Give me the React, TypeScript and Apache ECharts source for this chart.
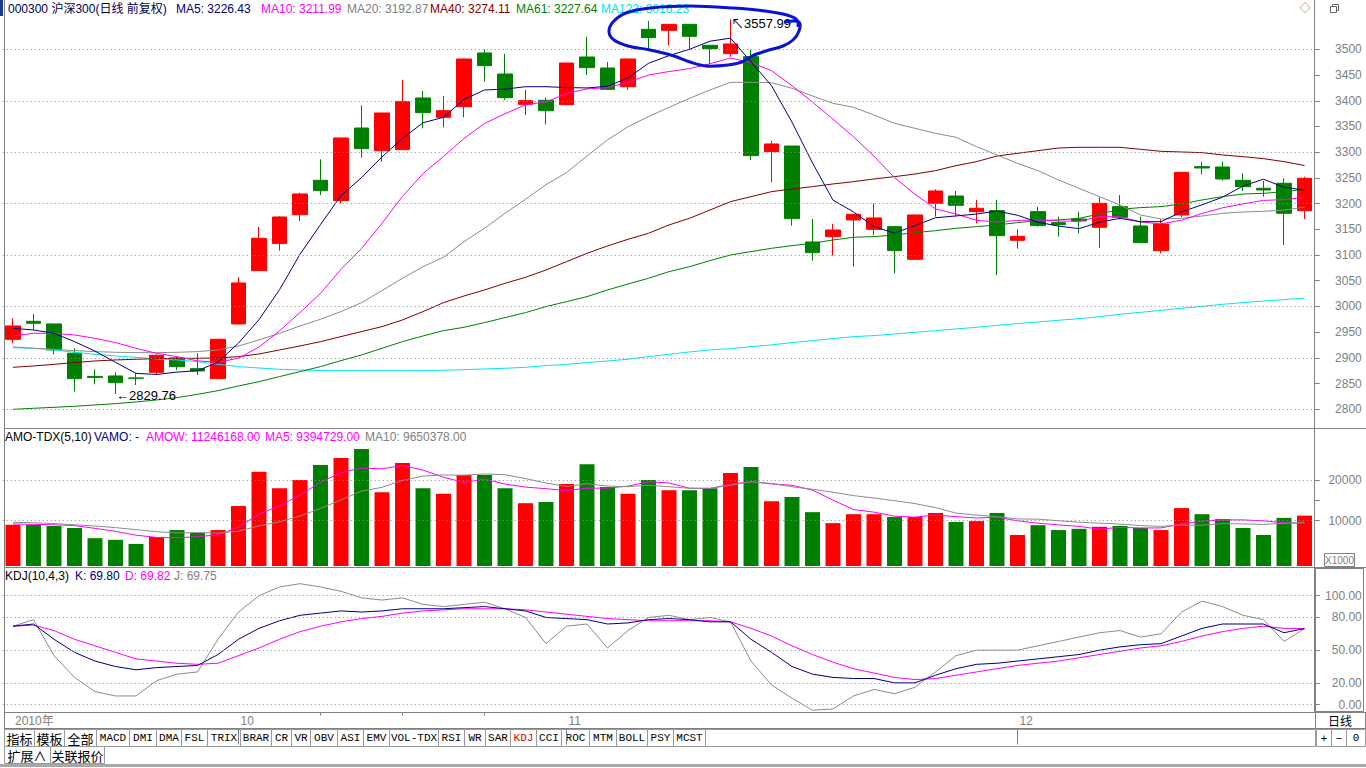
import React, { useEffect, useRef } from 'react';
import * as echarts from 'echarts';

// ---------- DATA ----------
const dates = [
  '2010-09-13','2010-09-14','2010-09-15','2010-09-16','2010-09-17','2010-09-20','2010-09-21','2010-09-27','2010-09-28','2010-09-29','2010-09-30',
  '2010-10-08','2010-10-11','2010-10-12','2010-10-13','2010-10-14','2010-10-15','2010-10-18','2010-10-19','2010-10-20','2010-10-21','2010-10-22','2010-10-25','2010-10-26','2010-10-27','2010-10-28','2010-10-29',
  '2010-11-01','2010-11-02','2010-11-03','2010-11-04','2010-11-05','2010-11-08','2010-11-09','2010-11-10','2010-11-11','2010-11-12','2010-11-15','2010-11-16','2010-11-17','2010-11-18','2010-11-19','2010-11-22','2010-11-23','2010-11-24','2010-11-25','2010-11-26','2010-11-29','2010-11-30',
  '2010-12-01','2010-12-02','2010-12-03','2010-12-06','2010-12-07','2010-12-08','2010-12-09','2010-12-10','2010-12-13','2010-12-14','2010-12-15','2010-12-16','2010-12-17','2010-12-20','2010-12-21'
];

const opens = [2936.1,2971.1,2966.0,2909.0,2864.0,2864.9,2861.0,2872.0,2899.9,2879.1,2859.7,2966.0,3069.7,3122.2,3178.5,3245.3,3205.8,3347.0,3303.0,3305.0,3405.4,3367.8,3388.5,3492.9,3452.0,3393.0,3400.8,3392.4,3485.1,3463.7,3427.4,3538.9,3536.9,3548.6,3507.8,3491.6,3485.7,3301.0,3312.0,3125.4,3135.8,3168.2,3150.0,3155.2,3091.7,3200.6,3214.8,3184.4,3186.3,3128.6,3184.4,3163.0,3170.1,3153.9,3194.1,3156.5,3108.6,3177.9,3271.9,3271.2,3245.3,3229.8,3239.5,3186.3];
const closes = [2962.1,2967.3,2915.4,2859.7,2862.0,2851.9,2860.3,2905.0,2883.0,2874.6,2936.2,3045.7,3132.5,3174.0,3218.7,3225.2,3327.6,3306.9,3376.2,3398.2,3376.9,3380.7,3481.2,3468.2,3406.0,3400.2,3380.7,3473.4,3464.4,3422.2,3481.2,3522.7,3548.6,3525.3,3501.3,3510.4,3293.3,3316.0,3170.8,3104.7,3148.7,3179.2,3172.1,3108.6,3177.9,3224.6,3196.7,3190.9,3137.7,3136.4,3157.2,3159.1,3166.2,3200.6,3173.4,3124.1,3160.4,3260.8,3269.3,3247.9,3233.0,3226.5,3181.1,3249.2];
const lows = [2928.4,2954.3,2907.0,2834.4,2848.7,2829.76,2847.4,2866.8,2876.5,2866.8,2859.0,2965.0,3069.0,3108.5,3166.2,3216.8,3200.6,3289.4,3281.6,3304.0,3346.4,3348.3,3367.8,3437.1,3401.5,3372.3,3354.2,3391.0,3450.1,3420.9,3421.0,3500.0,3507.8,3500.0,3471.5,3485.7,3284.8,3241.4,3157.2,3089.0,3098.8,3077.4,3139.0,3064.5,3091.0,3174.7,3174.7,3161.7,3061.2,3112.4,3155.2,3135.8,3142.2,3113.7,3169.5,3124.0,3103.4,3173.4,3256.9,3244.6,3224.6,3213.5,3119.6,3170.1];
const highs = [2977.0,2985.4,2967.0,2918.7,2877.8,2872.0,2870.0,2907.0,2902.4,2909.0,2937.0,3056.7,3154.6,3175.0,3221.3,3286.1,3328.0,3391.1,3377.0,3440.4,3419.0,3409.3,3482.0,3500.0,3491.0,3421.0,3406.0,3474.0,3524.6,3475.4,3482.0,3555.0,3549.0,3549.0,3508.0,3557.99,3498.7,3321.8,3312.0,3170.1,3160.4,3180.0,3200.6,3156.0,3178.0,3227.8,3224.6,3207.0,3207.0,3150.0,3194.1,3174.7,3184.4,3212.2,3216.8,3174.7,3169.5,3261.0,3281.6,3281.6,3258.9,3244.0,3249.2,3252.4];

const ma5 = [2957.5,2954.3,2947.8,2931.6,2913.3,2891.3,2869.9,2867.8,2872.4,2875.0,2891.8,2928.9,2974.4,3032.6,3101.4,3159.2,3215.6,3250.5,3290.9,3326.8,3357.2,3367.8,3402.6,3421.0,3422.6,3427.3,3427.3,3425.7,3424.9,3428.2,3444.4,3472.8,3487.8,3500.0,3515.8,3521.7,3475.8,3429.3,3358.4,3279.0,3206.7,3183.9,3155.1,3142.7,3157.3,3172.5,3176.0,3179.7,3185.6,3177.3,3163.8,3156.3,3151.3,3163.9,3171.3,3164.7,3164.9,3183.9,3197.6,3212.5,3234.3,3247.5,3231.6,3226.4];
const ma10 = [2942.6,2947.8,2947.8,2944.6,2938.1,2929.7,2918.7,2908.9,2902.4,2894.2,2891.6,2899.4,2921.1,2952.5,2988.2,3025.5,3072.3,3112.5,3161.8,3214.1,3258.2,3291.7,3326.6,3356.0,3374.7,3392.3,3397.6,3414.2,3423.0,3425.4,3435.9,3450.1,3456.8,3462.5,3472.0,3483.1,3474.3,3458.6,3429.2,3397.4,3364.2,3329.9,3292.2,3250.6,3218.2,3189.6,3180.0,3167.4,3164.2,3167.3,3168.2,3166.2,3165.5,3174.8,3174.3,3164.3,3160.6,3167.6,3180.8,3191.9,3199.5,3206.2,3207.8,3212.0];
const ma20 = [2921.3,2918.7,2916.7,2914.1,2912.2,2910.9,2910.2,2910.2,2910.9,2912.2,2915.4,2923.2,2934.9,2947.8,2962.1,2975.1,2990.0,3007.4,3030.8,3054.8,3077.4,3095.6,3126.0,3152.0,3181.1,3208.4,3236.9,3260.2,3292.6,3323.7,3349.6,3369.1,3387.2,3404.7,3420.9,3435.8,3435.8,3435.2,3424.2,3409.3,3395.0,3387.2,3372.3,3356.1,3346.4,3336.7,3328.9,3310.8,3294.6,3278.3,3264.1,3245.9,3229.7,3213.5,3197.3,3177.9,3170.1,3171.4,3175.9,3181.1,3183.7,3185.0,3187.5,3192.9];
const ma40 = [2881.7,2884.3,2887.5,2890.8,2894.0,2896.0,2897.3,2898.6,2899.2,2899.2,2899.9,2902.4,2907.6,2915.4,2923.2,2931.6,2941.4,2951.1,2960.8,2973.8,2990.0,3007.4,3020.4,3032.1,3045.0,3056.7,3070.9,3087.2,3103.4,3117.6,3130.6,3142.3,3158.5,3171.4,3187.6,3203.8,3213.5,3223.3,3228.4,3233.0,3238.2,3242.7,3247.9,3252.4,3257.6,3264.1,3273.8,3281.6,3292.6,3297.8,3303.0,3308.1,3309.5,3309.5,3309.5,3305.6,3301.7,3300.4,3299.1,3294.6,3291.3,3287.4,3281.6,3274.1];
const ma61 = [2800.0,2802.0,2803.9,2805.9,2808.5,2811.1,2814.3,2818.2,2822.7,2829.2,2836.3,2845.4,2853.8,2863.6,2873.3,2883.0,2894.7,2905.7,2918.7,2931.6,2942.6,2953.0,2959.5,2968.6,2978.3,2988.0,2999.7,3009.4,3019.1,3032.1,3043.7,3054.8,3067.7,3077.4,3089.1,3100.1,3106.6,3113.1,3118.3,3122.8,3129.3,3134.5,3135.8,3139.0,3143.5,3147.4,3152.0,3155.2,3158.5,3163.0,3166.9,3168.2,3171.4,3179.8,3188.9,3192.2,3194.1,3199.3,3207.1,3213.5,3218.7,3220.0,3223.3,3227.6];
const ma122 = [2920.0,2918.7,2915.4,2910.9,2907.0,2903.8,2901.1,2897.9,2896.0,2892.7,2887.5,2883.0,2880.4,2877.8,2876.5,2875.5,2875.2,2875.2,2875.2,2875.2,2875.2,2875.9,2877.2,2878.5,2879.8,2881.7,2885.0,2887.5,2890.8,2894.0,2897.3,2902.4,2907.0,2911.5,2915.4,2918.0,2921.9,2925.2,2929.7,2933.6,2937.5,2941.3,2943.3,2946.5,2949.8,2953.0,2956.3,2959.5,2963.4,2966.6,2969.9,2973.1,2976.3,2980.2,2984.8,2988.6,2992.4,2996.4,3000.3,3004.2,3007.4,3010.7,3013.3,3016.2];

// turnover (x1000)
const amount = [9000,9000,8700,8200,5700,5300,4300,6000,7700,7000,7700,13600,22000,18000,20000,23700,25400,27600,17000,24200,18000,16600,21200,21200,18000,14300,14600,19000,23900,18300,16600,20000,17500,17500,18000,21700,23200,14800,15800,12100,9400,11600,11600,10900,10900,11900,9700,9900,11900,6500,8900,7700,8000,8500,8700,8200,7700,13100,11600,10400,8200,6500,10700,11246];
const amoMa5 = [9200,9100,9000,8800,8120,7380,6440,5900,5800,6060,6540,8400,11600,13660,16260,19460,21820,22940,22740,23580,22440,20680,19400,20240,19000,18260,17860,17420,17960,18020,18480,19560,19260,17980,17920,18940,19580,19040,18700,17520,15060,12740,12100,11120,10880,11380,11000,10660,10860,9980,9380,8980,8600,7920,8360,8220,8220,9240,9860,10200,10200,9960,9480,9395];
const amoMa10 = [9600,9500,9300,9000,8700,8300,7800,7300,7000,7090,6960,7420,8750,9730,11160,13000,15110,17270,18200,19920,20950,21250,21170,21490,21290,20350,19270,18410,19100,18510,18370,18710,18340,17970,17970,18710,19570,19150,18340,17720,17000,16160,15570,14910,14200,13220,11870,11380,10990,10430,10380,9990,9630,9390,9170,8800,8600,8920,8890,9280,9210,9090,9360,9650];

const kLine = [72,74,60,48,40,35,32,34,35,36,46,60,70,77,82,84,86,85,86,88,88,88,89,90,88,86,80,79,78,74,75,78,79,78,76,76,60,48,35,28,25,24,24,20,20,27,33,37,38,40,42,44,46,50,53,55,56,63,70,74,74,74,66,69.8];
const dLine = [72,73,68,60,54,48,42,40,38,37,38,45,52,60,67,72,76,79,81,84,86,87,88,88,88,87,85,83,81,79,78,77,77,77,77,76,70,63,54,46,39,33,29,25,23,24,27,30,33,36,38,40,43,46,49,52,54,58,63,67,70,72,70,69.82];
const jLine = [72,78,45,25,12,8,8,22,28,30,60,85,100,108,111,108,104,98,96,98,92,90,92,94,88,80,56,72,74,52,68,80,82,78,80,76,40,18,6,-5,-4,8,14,10,16,30,45,50,50,50,54,58,62,66,68,62,65,85,95,90,82,78,58,69.75];

const priceTicks = [2800,2850,2900,2950,3000,3050,3100,3150,3200,3250,3300,3350,3400,3450,3500];
const priceGrid = [2800,2900,3000,3100,3200,3300,3400,3500];
const amoTicks = [10000,15000,20000];
const amoLabels = [10000,20000];
const kdjTicks = [0,20,50,80,100];
const monthLabels: Record<number, string> = { 0: '2010年', 11: '10', 27: '11', 49: '12' };
const monthLines = [11, 27, 49];
const weekTicks = [15, 19, 23];

const tabs = ['指标','模板','全部','MACD','DMI','DMA','FSL','TRIX','BRAR','CR','VR','OBV','ASI','EMV','VOL-TDX','RSI','WR','SAR','KDJ','CCI','ROC','MTM','BOLL','PSY','MCST'];
const tabEdges = [4,34,64,96,129,156,181,207,240,271,291,310,337,363,389,438,464,485,510,536,561,589,616,647,673,705];

// ---------- STYLE ----------
const SANS = '"Liberation Sans", Arial, "Noto Sans CJK SC", sans-serif';
const MONO = '"Liberation Mono", "DejaVu Sans Mono", monospace';
const CJK = '"Noto Sans CJK SC", sans-serif';
const GRAY = '#808080';
const UP = '#ff0000';
const DOWN = '#008000';
const dotted = { color: '#8a8a8a', type: [1, 3] as any, width: 1 };

function txt(x: number, y: number, text: string, fill: string, font = SANS, size = 12, align: any = 'left') {
  return { type: 'text', x, y, silent: true, style: { text, fill, font: `${size}px ${font}`, textVerticalAlign: 'middle', textAlign: align } };
}
function ln(x1: number, y1: number, x2: number, y2: number, stroke = GRAY, w = 1) {
  return { type: 'line', silent: true, shape: { x1, y1, x2, y2 }, style: { stroke, lineWidth: w } };
}
function box(x: number, y: number, w: number, h: number, stroke = GRAY, fill = 'none') {
  return { type: 'rect', silent: true, shape: { x, y, width: w, height: h }, style: { stroke, fill, lineWidth: 1 } };
}

function buildGraphic() {
  const g: any[] = [];
  g.push({ type: 'rect', silent: true, shape: { x: 0, y: 0, width: 3, height: 16 }, style: { fill: '#1c3a8c' } });
  g.push(ln(4.5, 0, 4.5, 763));
  g.push(ln(1314.5, 0, 1314.5, 712));
  g.push(ln(4, 428.5, 1366, 428.5));
  g.push(ln(4, 567.5, 1366, 567.5));
  g.push(ln(4, 712.5, 1366, 712.5));
  g.push(ln(4, 728.5, 1366, 728.5));
  g.push(box(1324.5, 553.5, 30, 13));
  g.push(txt(1339.5, 560, 'X1000', GRAY, SANS, 10, 'center'));
  g.push(box(1315.5, 568.5, 48, 143));
  g.push(box(1315.5, 712.5, 50, 16));
  g.push(txt(1340, 720.5, '日线', '#000', CJK, 12, 'center'));
  g.push(txt(1305, 8, '◇', '#666', SANS, 11, 'center'));
  g.push(box(1332.5, 4.5, 6, 6, '#666'));
  g.push(box(1330.5, 6.5, 6, 6, '#666', '#fff'));

  g.push(txt(8, 9, '000300 沪深300(日线 前复权)', '#000050'));
  g.push(txt(176, 9, 'MA5: 3226.43', '#000080'));
  g.push(txt(261, 9, 'MA10: 3211.99', '#ff00ff'));
  g.push(txt(347, 9, 'MA20: 3192.87', GRAY));
  g.push(txt(430, 9, 'MA40: 3274.11', '#800000'));
  g.push(txt(516, 9, 'MA61: 3227.64', '#008000'));
  g.push(txt(601, 9, 'MA122: 3016.23', '#00e0e8'));

  g.push(txt(5, 437, 'AMO-TDX(5,10)', '#000'));
  g.push(txt(94, 437, 'VAMO: -', '#000080'));
  g.push(txt(146, 437, 'AMOW: 11246168.00', '#ff00ff'));
  g.push(txt(265, 437, 'MA5: 9394729.00', '#ff00ff'));
  g.push(txt(365, 437, 'MA10: 9650378.00', GRAY));

  g.push(txt(5, 576, 'KDJ(10,4,3)', '#000'));
  g.push(txt(75, 576, 'K: 69.80', '#000080'));
  g.push(txt(125, 576, 'D: 69.82', '#ff00ff'));
  g.push(txt(174, 576, 'J: 69.75', GRAY));

  for (let i = 0; i < tabs.length; i++) {
    const x0 = tabEdges[i], x1 = tabEdges[i + 1];
    g.push(box(x0 + 0.5, 729.5, x1 - x0, 17, '#9a9a9a', '#fff'));
    const cjk = i < 3;
    g.push(txt((x0 + x1) / 2 + 0.5, 738, tabs[i], tabs[i] === 'KDJ' ? '#e00000' : '#000', cjk ? CJK : MONO, cjk ? 13 : 11, 'center'));
  }
  g.push(box(705.5, 729.5, 610, 17, '#9a9a9a', '#fff'));
  g.push(box(1316.5, 729.5, 15, 17, '#9a9a9a', '#fff'));
  g.push(box(1331.5, 729.5, 15, 17, '#9a9a9a', '#fff'));
  g.push(box(1346.5, 729.5, 19, 17, '#9a9a9a', '#fff'));
  g.push(txt(1324, 738, '+', '#000', SANS, 11, 'center'));
  g.push(txt(1339, 738, '−', '#000', SANS, 11, 'center'));
  g.push(txt(1356, 738, '0', '#000', MONO, 11, 'center'));
  g.push(box(4.5, 746.5, 46, 17, '#9a9a9a', '#fff'));
  g.push(box(50.5, 746.5, 54, 17, '#9a9a9a', '#fff'));
  g.push(txt(27, 755, '扩展∧', '#000', CJK, 13, 'center'));
  g.push(txt(77.5, 755, '关联报价', '#000', CJK, 13, 'center'));
  g.push(ln(0, 765.5, 1366, 765.5, '#a8a8a8', 3));

  g.push({
    type: 'polyline', silent: true, z: 100,
    shape: {
      smooth: 0.35,
      points: [[784,22],[799,22],[799,31],[793,40],[783,46],[766,51],[752,56],[742,62],[728,65],[706,66],[690,62],[674,56],[650,50],[628,46],[614,40],[609,32],[613,22],[626,13],[650,8],[690,6],[733,8],[765,11],[787,15],[797,20],[798,27]]
    },
    style: { stroke: '#0a14d0', lineWidth: 3, fill: 'none' }
  });
  return g;
}

function buildOption(): any {
  const xBase = (gi: number) => ({
    type: 'category', gridIndex: gi, data: dates, boundaryGap: true,
    axisLine: { show: false }, axisTick: { show: false }, axisLabel: { show: false }, splitLine: { show: false }
  });
  const yLabel = { color: GRAY, fontSize: 12, fontFamily: SANS, align: 'right', margin: 47 };
  const line = (name: string, data: number[], color: string, xi: number, yi: number) => ({
    name, type: 'line', xAxisIndex: xi, yAxisIndex: yi, data, symbol: 'none', z: 3,
    lineStyle: { color, width: 1 }, itemStyle: { color }, silent: true
  });
  const gridSeries = (xi: number, yi: number, vals: number[]) => ({
    type: 'line', xAxisIndex: xi, yAxisIndex: yi, data: [], z: 1, silent: true,
    markLine: { silent: true, symbol: 'none', label: { show: false }, lineStyle: dotted, data: vals.map(v => ({ yAxis: v })) }
  });

  return {
    animation: false,
    backgroundColor: '#ffffff',
    grid: [
      { left: 2.75, width: 1312, top: 19.5, height: 407.3 },
      { left: 2.75, width: 1312, top: 439.3, height: 126.7 },
      { left: 2.75, width: 1312, top: 571.7, height: 139.5 },
      { left: 2.75, width: 1312, top: 712.5, height: 16 }
    ],
    xAxis: [
      xBase(0), xBase(1), xBase(2),
      {
        type: 'category', gridIndex: 3, data: dates, boundaryGap: true, position: 'top',
        axisLine: { show: false },
        axisTick: { show: true, inside: true, length: 16, alignWithLabel: true, interval: (i: number) => monthLines.includes(i), lineStyle: { color: GRAY } },
        axisLabel: { show: true, inside: true, interval: (i: number) => monthLabels[i] !== undefined, formatter: (_v: string, i: number) => monthLabels[i] || '', color: GRAY, align: 'left', fontSize: 12, fontFamily: SANS, margin: 2, padding: [0, 0, 0, 2] },
        splitLine: { show: false }
      },
      {
        type: 'category', gridIndex: 3, data: dates, boundaryGap: true, position: 'top',
        axisLine: { show: false },
        axisTick: { show: true, inside: true, length: 3, alignWithLabel: true, interval: (i: number) => weekTicks.includes(i), lineStyle: { color: GRAY } },
        axisLabel: { show: false }, splitLine: { show: false }
      }
    ],
    yAxis: [
      {
        type: 'value', gridIndex: 0, position: 'right', min: 2766, max: 3558,
        axisLine: { show: false }, splitLine: { show: false },
        axisTick: { show: true, length: 5, customValues: priceTicks, lineStyle: { color: GRAY } },
        axisLabel: { ...yLabel, customValues: priceTicks, formatter: (v: number) => String(v) }
      },
      {
        type: 'value', gridIndex: 1, position: 'right', min: -1130, max: 30000,
        axisLine: { show: false }, splitLine: { show: false },
        axisTick: { show: true, length: 5, customValues: amoTicks, lineStyle: { color: GRAY } },
        axisLabel: { ...yLabel, customValues: amoLabels, formatter: (v: number) => String(v) }
      },
      {
        type: 'value', gridIndex: 2, position: 'right', min: -6, max: 122,
        axisLine: { show: false }, splitLine: { show: false },
        axisTick: { show: true, length: 5, customValues: kdjTicks, lineStyle: { color: GRAY } },
        axisLabel: { ...yLabel, customValues: kdjTicks, formatter: (v: number) => v.toFixed(2) }
      },
      { type: 'value', gridIndex: 3, show: false }
    ],
    graphic: buildGraphic(),
    series: [
      gridSeries(0, 0, priceGrid),
      {
        name: 'K', type: 'candlestick', xAxisIndex: 0, yAxisIndex: 0, z: 2, barWidth: 15, silent: true,
        data: opens.map((o, i) => [o, closes[i], lows[i], highs[i]]),
        itemStyle: { color: UP, color0: DOWN, borderColor: UP, borderColor0: DOWN, borderWidth: 1 },
        markPoint: {
          silent: true, symbol: 'circle', symbolSize: 1,
          itemStyle: { color: 'rgba(0,0,0,0)' },
          label: { show: true, position: 'right', distance: 0, color: '#000', fontSize: 13, fontFamily: SANS },
          data: [
            { coord: [dates[35], 3557.99], label: { formatter: '↖3557.99', offset: [0, 4] } },
            { coord: [dates[5], 2829.76], label: { formatter: '←2829.76', offset: [0, 1] } }
          ]
        }
      },
      line('MA122', ma122, '#00e5ee', 0, 0),
      line('MA61', ma61, '#008000', 0, 0),
      line('MA40', ma40, '#800000', 0, 0),
      line('MA20', ma20, '#8c8c8c', 0, 0),
      line('MA10', ma10, '#ff00ff', 0, 0),
      line('MA5', ma5, '#000080', 0, 0),

      gridSeries(1, 1, amoLabels),
      {
        name: 'AMO', type: 'custom', xAxisIndex: 1, yAxisIndex: 1, z: 2, silent: true,
        data: amount.map((v, i) => [i, v, closes[i] >= opens[i] ? 1 : 0]),
        encode: { x: 0, y: 1 },
        renderItem: (params: any, api: any) => {
          const top = api.coord([api.value(0), api.value(1)]);
          const cs = params.coordSys;
          const w = api.size([1, 0])[0] * 0.73;
          return {
            type: 'rect',
            shape: { x: top[0] - w / 2, y: top[1], width: w, height: cs.y + cs.height - top[1] },
            style: { fill: api.value(2) ? UP : DOWN }
          };
        }
      },
      line('AMO MA5', amoMa5, '#ff00ff', 1, 1),
      line('AMO MA10', amoMa10, '#8c8c8c', 1, 1),

      gridSeries(2, 2, kdjTicks),
      line('J', jLine, '#8c8c8c', 2, 2),
      line('D', dLine, '#ff00ff', 2, 2),
      line('K', kLine, '#000080', 2, 2)
    ]
  };
}

export default function App() {
  const ref = useRef<HTMLDivElement>(null);
  useEffect(() => {
    document.body.style.margin = '0';
    const chart = echarts.init(ref.current!, null, { renderer: 'svg' });
    chart.setOption(buildOption());
    return () => chart.dispose();
  }, []);
  return <div ref={ref} style={{ position: 'absolute', left: 0, top: 0, width: 1366, height: 768, background: '#fff' }} />;
}
